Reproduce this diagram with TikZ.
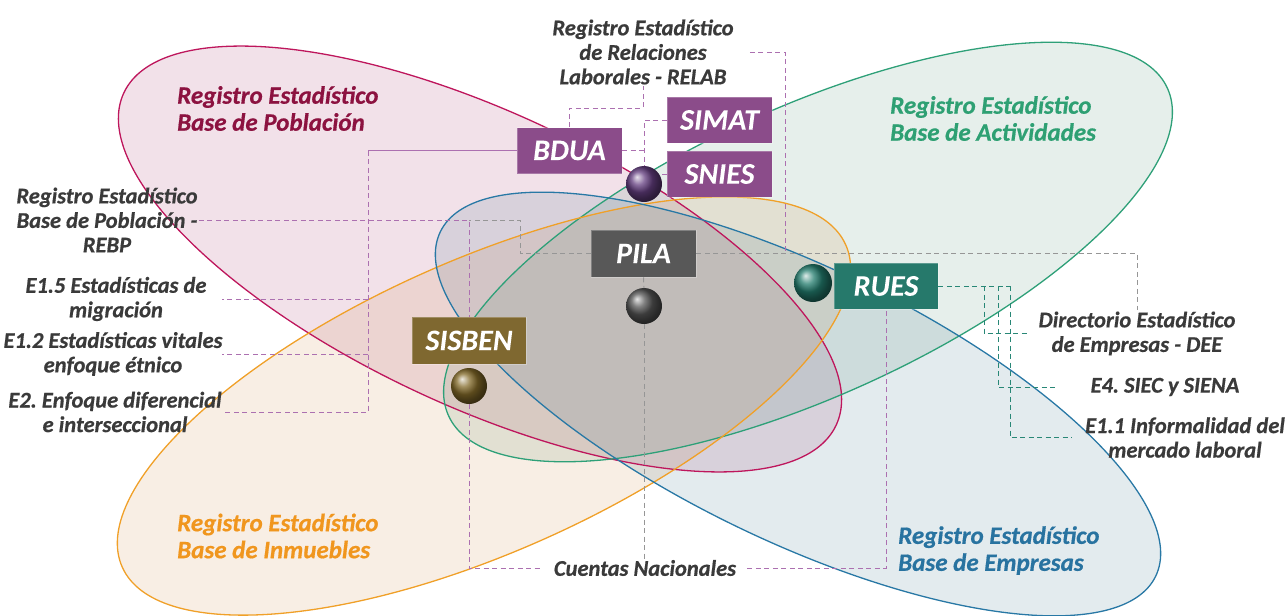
\documentclass[tikz,border=0pt]{standalone}
\usepackage{fontspec}
\setmainfont{Carlito}
\newfontfamily\heavyfont{Carlito}[BoldItalicFeatures={FakeBold=0.6}]
\frenchspacing
\definecolor{pinkL}{RGB}{190,22,92}
\definecolor{greenL}{RGB}{46,160,120}
\definecolor{orangeL}{RGB}{240,160,40}
\definecolor{blueL}{RGB}{40,120,165}
\definecolor{pinkF}{RGB}{160,45,100}
\definecolor{greenF}{RGB}{75,140,110}
\definecolor{orangeF}{RGB}{205,135,65}
\definecolor{blueF}{RGB}{60,110,135}
\definecolor{pinkT}{RGB}{140,18,64}
\definecolor{greenT}{RGB}{46,160,115}
\definecolor{orangeT}{RGB}{240,150,30}
\definecolor{blueT}{RGB}{40,115,160}
\definecolor{labelgray}{RGB}{58,58,58}
\definecolor{purpleBox}{RGB}{139,76,138}
\definecolor{grayBox}{RGB}{88,88,88}
\definecolor{goldBox}{RGB}{127,104,48}
\definecolor{tealBox}{RGB}{38,121,107}
\definecolor{purpleOrb}{RGB}{100,62,128}
\definecolor{grayOrb}{RGB}{85,85,85}
\definecolor{goldOrb}{RGB}{130,105,40}
\definecolor{tealOrb}{RGB}{35,125,110}
\definecolor{pline}{RGB}{172,112,176}
\definecolor{gline}{RGB}{150,150,150}
\definecolor{tline}{RGB}{40,135,118}
\begin{document}
\begin{tikzpicture}[x=1pt,y=-1pt,
  lbl/.style={font=\heavyfont\fontsize{22.5}{24.5}\selectfont\bfseries\itshape\frenchspacing, text=labelgray, align=center, inner sep=1pt},
  ttl/.style={font=\heavyfont\fontsize{25}{27}\selectfont\bfseries\itshape, align=left, anchor=west, inner sep=0pt},
  tag/.style={font=\heavyfont\fontsize{30}{32}\selectfont\bfseries\itshape, text=white, minimum width=105pt, minimum height=46pt, inner sep=0pt, draw=white, draw opacity=0.25, line width=0.8pt},
  orb/.style={circle, minimum size=36pt, inner sep=0pt},
  pconn/.style={draw=pline, dash pattern=on 5pt off 3.5pt, line width=1pt},
  psolid/.style={draw=pline, line width=1pt},
  gconn/.style={draw=gline, dash pattern=on 5pt off 3.5pt, line width=1pt},
  tconn/.style={draw=tline, dash pattern=on 5pt off 3.5pt, line width=1pt},
  efill/.style={fill opacity=0.14},
  eline/.style={line width=1.3pt}
]
\useasboundingbox (0,0) rectangle (1286,616);
% ellipse fills
\fill[fill=pinkF, efill, rotate around={-25:(480,259)}] (480,259) ellipse [x radius=393pt, y radius=147pt];
\fill[fill=greenF, efill, rotate around={24.5:(808,252)}] (808,252) ellipse [x radius=395pt, y radius=144pt];
\fill[fill=orangeF, efill, rotate around={24:(484,406)}] (484,406) ellipse [x radius=396pt, y radius=146pt];
\fill[fill=blueF, efill, rotate around={-25.7:(798,404)}] (798,404) ellipse [x radius=397pt, y radius=137pt];
% ellipse outlines
\draw[draw=pinkL, eline, rotate around={-25:(480,259)}] (480,259) ellipse [x radius=393pt, y radius=147pt];
\draw[draw=greenL, eline, rotate around={24.5:(808,252)}] (808,252) ellipse [x radius=395pt, y radius=144pt];
\draw[draw=orangeL, eline, rotate around={24:(484,406)}] (484,406) ellipse [x radius=396pt, y radius=146pt];
\draw[draw=blueL, eline, rotate around={-25.7:(798,404)}] (798,404) ellipse [x radius=397pt, y radius=137pt];
% titles
\node[ttl, text=pinkT] (tPob) at (177,108.5) {Registro Estadístico\\Base de Población};
\node[ttl, text=greenT] (tAct) at (890,118.5) {Registro Estadístico\\Base de Actividades};
\node[ttl, text=orangeT] (tInm) at (177,536) {Registro Estadístico\\Base de Inmuebles};
\node[ttl, text=blueT] (tEmp) at (898,550.5) {Registro Estadístico\\Base de Empresas};
% labels
\node[lbl] (relab) at (643,52) {Registro Estadístico\\de Relaciones\\Laborales - RELAB};
\node[lbl] (rebp) at (107,220) {Registro Estadístico\\Base de Población -\\REBP};
\node[lbl] (e15) at (116,299) {E1.5 Estadísticas de\\migración};
\node[lbl] (e12) at (113,354) {E1.2 Estadísticas vitales\\enfoque étnico};
\node[lbl] (e2) at (115,412) {E2. Enfoque diferencial\\e interseccional};
\node[lbl] (dee) at (1137,333.5) {Directorio Estadístico\\de Empresas - DEE};
\node[lbl] (e4) at (1165,387) {E4. SIEC y SIENA};
\node[lbl] (e11) at (1185,437.5) {E1.1 Informalidad del\\mercado laboral};
\node[lbl] (cn) at (645,568) {Cuentas Nacionales};
% boxes
\node[tag, fill=purpleBox] (bdua) at (569.5,150.5) {BDUA};
\node[tag, fill=purpleBox] (simat) at (719.5,120) {SIMAT};
\node[tag, fill=purpleBox] (snies) at (719.5,174) {SNIES};
\node[tag, fill=grayBox, minimum height=47pt] (pila) at (643.5,253.5) {PILA};
\node[tag, fill=goldBox, minimum width=114pt, minimum height=47pt] (sisben) at (469,340.5) {SISBEN};
\node[tag, fill=tealBox, minimum width=104pt] (rues) at (886,286) {RUES};
% orbs
\node[orb, ball color=purpleOrb] (bP) at (644,184) {};
\node[orb, ball color=grayOrb] (bG) at (644,306) {};
\node[orb, ball color=goldOrb] (bS) at (469,386) {};
\node[orb, ball color=tealOrb, minimum size=38pt] (bT) at (813,283) {};
% helper coordinates
\coordinate (rj) at (643,108);
\coordinate (pk) at (785,253.5);
\coordinate (pj) at (520,220);
\coordinate (bj) at (368,150.5);
\coordinate (lx) at (222,0);
\coordinate (t1) at (984,286);
\coordinate (t2) at (998,286);
\coordinate (t3) at (1010,286);
% connectors
\draw[pconn] (bdua.north) |- (rj) -- (rj |- relab.south);
\draw[pconn] ([xshift=15pt]relab.east) -| (pk);
\draw[gconn] (pila.east) -| (dee.north);
\draw[gconn] (pila.west) -| (pj) -- (pj -| sisben.north);
\draw[pconn] (rebp.east) -| (sisben.north);
\draw[pconn] (bS.south) |- ([xshift=-12pt]cn.west);
\draw[psolid] (bdua.west) -- (bj);
\draw[pconn] (bj) |- (lx |- e2.east);
\draw[pconn] (bj |- e15.east) -- (lx |- e15.east);
\draw[pconn] (bj |- e12.east) -- (lx |- e12.east);
\draw[pconn] (simat.west) -| (bP.north);
\draw[pconn] (bdua.east) -- (bdua.east -| bP.north);
\draw[pconn] (snies.west) -- (snies.west -| bP.east);
\draw[gconn] (pila.south) -- (bG.north);
\draw[gconn] (bG.south) -- (bG.south |- cn.north);
\draw[pconn] ([xshift=10pt]cn.east) -| (rues.south);
\draw[tconn] (rues.east) -- (t3);
\draw[tconn] (t1) |- ([xshift=-8pt]dee.west);
\draw[tconn] (t2) |- ([xshift=-34pt]e4.west);
\draw[tconn] (t3) |- ([xshift=-12pt]e11.west);
\end{tikzpicture}
\end{document}
